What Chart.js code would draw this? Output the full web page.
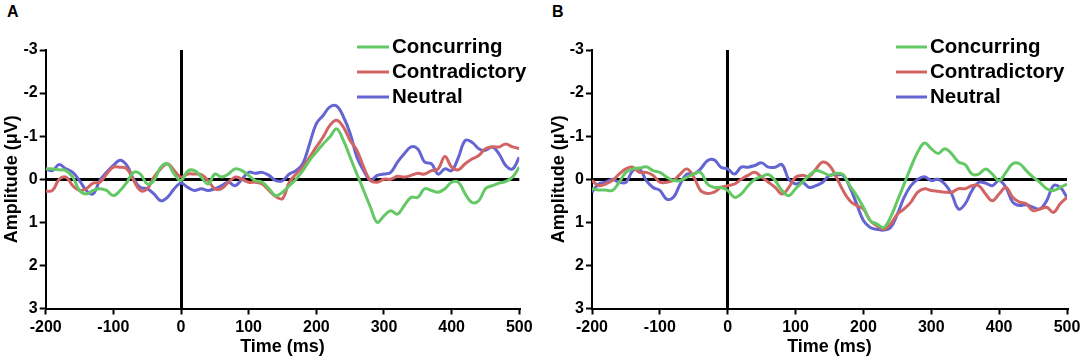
<!DOCTYPE html>
<html>
<head>
<meta charset="utf-8">
<script src="https://cdn.jsdelivr.net/npm/chart.js@4.4.1/dist/chart.umd.min.js"></script>
<style>
  body { margin: 0; background: #fff; width: 1084px; height: 361px; position: relative; overflow: hidden; }
  canvas { position: absolute; top: 0; }
  .tag { position: absolute; top: 3px; font: bold 16px "Liberation Sans", Arial, sans-serif; color: #000; }
</style>
</head>
<body>
<div class="tag" style="left:7px">A</div>
<div class="tag" style="left:552px">B</div>
<canvas id="chartA" width="542" height="361" style="left:0"></canvas>
<canvas id="chartB" width="538" height="361" style="left:546px"></canvas>
<script>
// time points (ms)
const times = [-200, -190, -180, -170, -160, -150, -140, -130, -120, -110,
  -100, -90, -80, -70, -60, -50, -40, -30, -20, -10,
  0, 10, 20, 30, 40, 50, 60, 70, 80, 90,
  100, 110, 120, 130, 140, 150, 160, 170, 180, 190,
  200, 210, 220, 230, 240, 250, 260, 270, 280, 290,
  300, 310, 320, 330, 340, 350, 360, 370, 380, 390,
  400, 410, 420, 430, 440, 450, 460, 470, 480, 490,
  500];

const seriesNames = ['Concurring', 'Contradictory', 'Neutral'];
const xTicks = [-200, -100, 0, 100, 200, 300, 400, 500];
const yTicks = [-3, -2, -1, 0, 1, 2, 3];

// panel A (µV)
const aConcurring = [-0.24, -0.24, -0.22, -0.2, -0.05, 0.26, 0.34, 0.26, 0.22, 0.26,
  0.38, 0.26, 0.07, -0.16, -0.12, 0.11, 0.03, -0.28, -0.36, -0.12,
  0.03, -0.19, -0.2, -0.05, 0.11, -0.12, -0.05, -0.12, -0.24, -0.2,
  -0.09, 0.03, 0.07, 0.22, 0.38, 0.3, 0.15, 0, -0.2, -0.44,
  -0.63, -0.82, -0.98, -1.17, -0.9, -0.51, -0.12, 0.26, 0.65, 1.0,
  0.85, 0.73, 0.81, 0.61, 0.42, 0.42, 0.22, 0.26, 0.3, 0.22,
  0.07, 0.07, 0.34, 0.54, 0.5, 0.22, 0.15, 0.09, 0.05, -0.05,
  -0.28];
const aContradictory = [0.28, 0.26, 0, -0.05, 0.15, 0.26, 0.22, 0.09, 0.07, -0.12,
  -0.28, -0.28, -0.24, 0.03, 0.26, 0.22, -0.05, -0.24, -0.36, -0.2,
  -0.05, -0.12, -0.12, -0.11, 0.03, 0.22, 0.22, 0.07, -0.05, 0,
  0.07, 0.07, 0.11, 0.26, 0.4, 0.45, 0.07, -0.12, -0.28, -0.51,
  -0.75, -0.98, -1.25, -1.37, -1.21, -0.9, -0.67, -0.28, 0.03, 0.07,
  0, 0, -0.07, -0.05, -0.09, -0.14, -0.12, -0.2, -0.24, -0.53,
  -0.28, -0.22, -0.36, -0.47, -0.55, -0.71, -0.75, -0.75, -0.82, -0.75,
  -0.71];
const aNeutral = [-0.24, -0.2, -0.34, -0.24, -0.16, 0.03, 0.26, 0.34, 0.03, -0.16,
  -0.32, -0.44, -0.32, 0, 0.19, 0.22, 0.34, 0.5, 0.42, 0.22,
  0.09, 0.19, 0.26, 0.22, 0.26, 0.22, 0.15, 0.07, 0.15, 0,
  -0.16, -0.14, -0.16, -0.09, 0.03, 0.03, -0.12, -0.2, -0.36, -0.82,
  -1.29, -1.48, -1.68, -1.7, -1.45, -1.06, -0.51, -0.2, 0.03, -0.09,
  -0.12, -0.16, -0.4, -0.59, -0.75, -0.7, -0.4, -0.36, -0.12, -0.24,
  -0.2, -0.51, -0.9, -0.86, -0.71, -0.67, -0.75, -0.59, -0.32, -0.24,
  -0.51];

// panel B (µV)
const bConcurring = [0.22, 0.25, 0.25, 0.26, 0.07, -0.16, -0.24, -0.26, -0.29, -0.2,
  -0.16, -0.05, 0.03, 0.03, -0.05, -0.12, -0.16, 0.11, 0.19, 0.19,
  0.26, 0.42, 0.34, 0.15, 0, -0.06, -0.11, 0.03, 0.26, 0.38,
  0.22, 0.07, -0.09, -0.2, -0.16, -0.09, -0.14, -0.11, 0.15, 0.38,
  0.65, 0.96, 1.04, 1.12, 0.88, 0.5, 0.11, -0.28, -0.63, -0.84,
  -0.71, -0.6, -0.71, -0.59, -0.4, -0.34, -0.12, -0.12, -0.24, -0.12,
  0.03, -0.16, -0.36, -0.36, -0.2, -0.05, 0.07, 0.22, 0.26, 0.19,
  0.11];
const bContradictory = [0.03, 0.15, 0.11, 0.03, -0.12, -0.24, -0.28, -0.16, -0.16, -0.09,
  0.07, 0.07, 0.03, -0.12, -0.24, -0.05, 0.26, 0.33, 0.3, 0.19,
  0.15, 0.11, 0, -0.09, -0.16, -0.05, 0.07, 0.19, 0.34, 0.19,
  -0.05, -0.09, -0.06, -0.24, -0.4, -0.32, -0.05, 0.26, 0.5, 0.61,
  0.69, 0.96, 1.08, 1.16, 1.04, 0.81, 0.69, 0.53, 0.3, 0.22,
  0.26, 0.28, 0.3, 0.3, 0.22, 0.22, 0.15, 0.15, 0.34, 0.5,
  0.34, 0.19, 0.42, 0.53, 0.57, 0.73, 0.69, 0.65, 0.77, 0.57,
  0.42];
const bNeutral = [0.3, 0.11, 0.07, 0, 0.07, 0.07, -0.2, -0.24, 0.03, 0.19,
  0.26, 0.46, 0.42, 0.11, -0.12, -0.12, -0.24, -0.43, -0.45, -0.28,
  -0.24, -0.12, -0.28, -0.28, -0.32, -0.38, -0.28, -0.28, -0.34, 0,
  0.11, 0.07, 0.19, 0.15, 0.07, -0.09, -0.1, -0.09, 0.19, 0.57,
  0.96, 1.12, 1.16, 1.18, 1.12, 0.81, 0.42, 0.15, 0, -0.06,
  0.03, 0, 0.11, 0.34, 0.69, 0.57, 0.26, 0.07, 0.09, 0.15,
  0.03, 0.19, 0.53, 0.61, 0.59, 0.65, 0.69, 0.5, 0.15, 0.19,
  0.42];

const colors = ['#64c864', '#d26464', '#6464d2'];
const FONT = '"Liberation Sans", Arial, Helvetica, sans-serif';

function pts(vals) {
  return times.map((t, i) => ({ x: t, y: vals[i] }));
}

function zeroOnly(ctx) {
  return ctx.tick && ctx.tick.value === 0 ? '#000' : 'rgba(0,0,0,0)';
}

// legend drawn inside the plot, top right
function legendPlugin(lineX0, lineX1, textX) {
  return {
    id: 'erpLegend',
    afterDraw(chart) {
      const c = chart.ctx;
      c.save();
      c.font = 'bold 20.5px ' + FONT;
      c.textBaseline = 'middle';
      c.fillStyle = '#000';
      seriesNames.forEach((name, i) => {
        const y = 47 + i * 25;
        c.strokeStyle = colors[i];
        c.lineWidth = 3;
        c.beginPath();
        c.moveTo(lineX0, y);
        c.lineTo(lineX1, y);
        c.stroke();
        c.fillText(name, textX, y);
      });
      c.restore();
    }
  };
}

function makeChart(id, series, p) {
  return new Chart(document.getElementById(id), {
    type: 'line',
    data: {
      datasets: series.map((vals, i) => ({
        label: seriesNames[i],
        data: pts(vals),
        borderColor: colors[i],
        borderWidth: 3,
        pointRadius: 0,
        tension: 0.4,
        fill: false
      }))
    },
    options: {
      responsive: false,
      animation: false,
      layout: { padding: { top: 50, right: p.padRight, bottom: 0, left: 0 } },
      plugins: { legend: { display: false }, tooltip: { enabled: false } },
      scales: {
        x: {
          type: 'linear',
          min: -200,
          max: 500,
          z: 1,
          afterBuildTicks: s => { s.ticks = xTicks.map(v => ({ value: v })); },
          afterFit: s => { s.height = 52.5; },
          ticks: { color: '#000', padding: 3, maxRotation: 0, font: { family: FONT, size: 16, weight: 'bold' } },
          grid: { color: zeroOnly, lineWidth: 3, tickColor: '#000', tickWidth: 2, tickLength: 6 },
          border: { display: true, color: '#000', width: 2 },
          title: { display: true, text: 'Time (ms)', color: '#000', padding: { top: 0, bottom: 3 }, font: { family: FONT, size: 18, weight: 'bold' } }
        },
        y: {
          min: -3,
          max: 3,
          reverse: true,
          z: 1,
          afterBuildTicks: s => { s.ticks = yTicks.map(v => ({ value: v })); },
          afterFit: s => { s.width = p.axisX; },
          ticks: { color: '#000', padding: 2, font: { family: FONT, size: 16, weight: 'bold' } },
          grid: { color: zeroOnly, lineWidth: 3, tickColor: '#000', tickWidth: 2, tickLength: 6 },
          border: { display: true, color: '#000', width: 2 },
          title: { display: true, text: 'Amplitude (μV)', color: '#000', padding: { top: p.titlePad, bottom: 0 }, font: { family: FONT, size: 18, weight: 'bold' } }
        }
      }
    },
    plugins: [legendPlugin(p.lineX0, p.lineX1, p.textX)]
  });
}

makeChart('chartA', [aConcurring, aContradictory, aNeutral],
  { axisX: 45.7, padRight: 22.7, titlePad: 1.5, lineX0: 357, lineX1: 389, textX: 392 });
makeChart('chartB', [bConcurring, bContradictory, bNeutral],
  { axisX: 46, padRight: 17, titlePad: 2.2, lineX0: 350, lineX1: 381, textX: 384 });
</script>
</body>
</html>
